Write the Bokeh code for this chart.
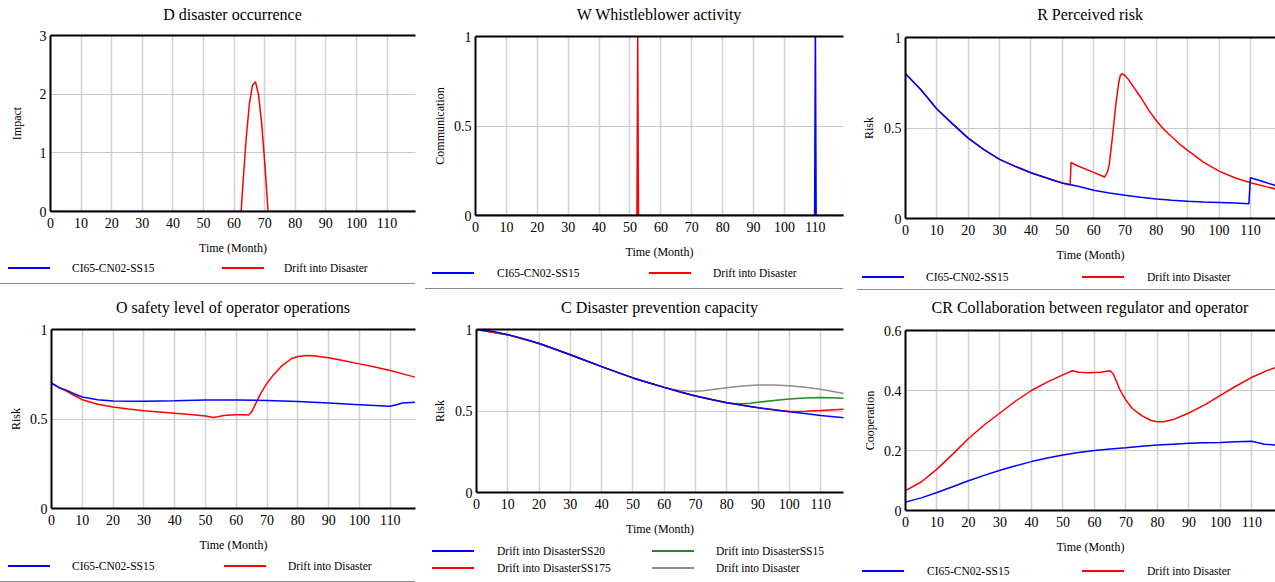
from bokeh.plotting import figure
from bokeh.models import (Range1d, FixedTicker, LinearAxis, NumeralTickFormatter, Div)
from bokeh.layouts import row, column
from bokeh.embed import file_html
from bokeh.resources import INLINE

FONT = "Liberation Serif"
BLUE = "#0000ff"
RED = "#ff0000"
GREEN = "#1f8a1f"
GRAY = "#8c8c8c"
X_TICKS = [0, 10, 20, 30, 40, 50, 60, 70, 80, 90, 100, 110, 120]

# ---------------- data ----------------
# D disaster occurrence
d_blue_t = [0, 120]
d_blue = [0, 0]
d_red_t = [0, 62.3, 63, 64, 65, 66, 67, 68, 69, 70, 71, 71.1, 120]
d_red = [0, 0, 0.55, 1.27, 1.83, 2.15, 2.21, 1.99, 1.51, 0.85, 0.08, 0, 0]

# W Whistleblower activity
w_blue_t = [0, 109.75, 110, 110.25, 120]
w_blue = [0, 0, 1, 0, 0]
w_red_t = [0, 52.25, 52.5, 52.75, 120]
w_red = [0, 0, 1, 0, 0]

# R Perceived risk
r_blue_t = [0, 5, 10, 15, 20, 25, 30, 35, 40, 45, 50, 55, 60, 65, 70, 75, 80, 85,
            90, 95, 100, 105, 109.5, 110, 113, 118]
r_blue = [0.8, 0.71, 0.605, 0.523, 0.444, 0.38, 0.327, 0.288, 0.253, 0.224, 0.196,
          0.178, 0.156, 0.141, 0.128, 0.117, 0.108, 0.101, 0.095, 0.091, 0.088,
          0.085, 0.081, 0.225, 0.21, 0.182]
r_red_t = [0, 5, 10, 15, 20, 25, 30, 35, 40, 45, 50, 52.5, 52.8, 55, 60, 63.5, 64.5,
           65, 66, 67, 68, 68.5, 69, 70, 71, 72, 73, 74, 75, 77.5, 80, 82.5, 85, 87.5,
           90, 95, 100, 105, 110, 115, 118]
r_red = [0.8, 0.71, 0.605, 0.523, 0.444, 0.38, 0.327, 0.288, 0.253, 0.224, 0.196,
         0.185, 0.31, 0.29, 0.255, 0.229, 0.26, 0.3, 0.45, 0.62, 0.75, 0.79, 0.80,
         0.79, 0.77, 0.745, 0.72, 0.695, 0.67, 0.60, 0.54, 0.49, 0.45, 0.41, 0.376,
         0.312, 0.262, 0.225, 0.198, 0.176, 0.163]

# O safety level of operator operations
o_blue_t = [0, 2.5, 5, 7.5, 10, 15, 20, 30, 40, 50, 60, 70, 80, 90, 100, 110, 112,
            114, 118]
o_blue = [0.70, 0.675, 0.66, 0.64, 0.623, 0.608, 0.600, 0.599, 0.602, 0.606, 0.606,
          0.604, 0.598, 0.589, 0.58, 0.571, 0.58, 0.589, 0.593]
o_red_t = [0, 2.5, 5, 7.5, 10, 15, 20, 25, 30, 35, 40, 45, 50, 52.5, 54, 56, 58, 60,
           62, 64, 65, 66, 67, 68, 70, 72, 75, 78, 80, 83, 85, 90, 95, 100, 105, 110,
           115, 118]
o_red = [0.70, 0.675, 0.655, 0.63, 0.608, 0.582, 0.567, 0.556, 0.546, 0.539, 0.532,
         0.525, 0.517, 0.509, 0.512, 0.52, 0.523, 0.524, 0.524, 0.522, 0.54, 0.575,
         0.61, 0.645, 0.70, 0.745, 0.80, 0.838, 0.849, 0.855, 0.853, 0.842, 0.826,
         0.808, 0.79, 0.771, 0.748, 0.734]

# C Disaster prevention capacity
c_t = [0, 5, 10, 15, 20, 25, 30, 35, 40, 45, 50, 55, 60, 65, 70, 75, 80, 85, 90, 95,
       100, 105, 110, 117.5]
c_ss20 = [1.0, 0.99, 0.968, 0.944, 0.914, 0.88, 0.845, 0.808, 0.772, 0.737, 0.703,
          0.673, 0.645, 0.617, 0.592, 0.57, 0.551, 0.535, 0.52, 0.507, 0.495, 0.484,
          0.473, 0.459]
c_ss15_t = [0, 10, 20, 30, 40, 50, 60, 70, 80, 83, 85, 87.5, 90, 95, 100, 105, 110,
            117.5]
c_ss15 = [1.0, 0.968, 0.914, 0.845, 0.772, 0.703, 0.645, 0.592, 0.551, 0.544, 0.545,
          0.548, 0.553, 0.565, 0.574, 0.58, 0.583, 0.578]
c_ss175_t = [0, 10, 20, 30, 40, 50, 60, 70, 80, 90, 97.5, 100, 105, 110, 117.5]
c_ss175 = [1.0, 0.968, 0.914, 0.845, 0.772, 0.703, 0.645, 0.592, 0.551, 0.52, 0.501,
           0.497, 0.499, 0.503, 0.511]
c_base_t = [0, 10, 20, 30, 40, 50, 60, 62.5, 65, 67.5, 70, 72.5, 75, 77.5, 80, 85, 90,
            95, 100, 105, 110, 117.5]
c_base = [1.0, 0.968, 0.914, 0.845, 0.772, 0.703, 0.645, 0.634, 0.626, 0.622, 0.621,
          0.624, 0.63, 0.637, 0.643, 0.653, 0.659, 0.66, 0.655, 0.645, 0.633, 0.607]

# CR Collaboration between regulator and operator
cr_blue_t = [0, 5, 10, 15, 20, 25, 30, 35, 40, 45, 50, 55, 60, 65, 70, 75, 80, 85, 90,
             95, 100, 105, 110, 112, 114, 118]
cr_blue = [0.028, 0.042, 0.06, 0.079, 0.099, 0.117, 0.134, 0.149, 0.163, 0.175, 0.185,
           0.193, 0.2, 0.205, 0.209, 0.214, 0.218, 0.221, 0.224, 0.226, 0.227, 0.229,
           0.231, 0.226, 0.221, 0.218]
cr_red_t = [0, 5, 10, 15, 20, 25, 30, 35, 40, 45, 50, 53, 55, 58, 62, 65, 66, 67, 68,
            69, 70, 72, 75, 78, 80, 82, 85, 90, 95, 100, 105, 110, 115, 118]
cr_red = [0.066, 0.095, 0.138, 0.188, 0.24, 0.285, 0.325, 0.365, 0.4, 0.428, 0.452,
          0.466, 0.461, 0.459, 0.461, 0.466, 0.455, 0.43, 0.405, 0.385, 0.368, 0.34,
          0.316, 0.3, 0.296, 0.296, 0.303, 0.325, 0.352, 0.384, 0.415, 0.444, 0.467,
          0.478]

TITLES = ["D disaster occurrence", "W Whistleblower activity", "R Perceived risk",
          "O safety level of operator operations", "C Disaster prevention capacity",
          "CR Collaboration between regulator and operator"]
LEG_A = "CI65-CN02-SS15"
LEG_B = "Drift into Disaster"
C_LABELS = ["Drift into DisasterSS20", "Drift into DisasterSS15",
            "Drift into DisasterSS175", "Drift into Disaster"]

TOP_BORDER = 8


def title_strip(text, w, h, left, right, cy):
    html = (f'<div style="position:relative;width:{w}px;height:{h}px;overflow:hidden;">'
            f'<div style="position:absolute;left:{left}px;width:{w - left - right}px;'
            f"top:{cy - 10}px;text-align:center;font-family:'{FONT}';font-size:16px;"
            f'line-height:20px;color:#000;white-space:nowrap;">{text}</div></div>')
    return Div(text=html, width=w, height=h, margin=0)


def main_plot(ylabel, ymax, yticks, xend, series, w, h, bl, br, bb, ylab_standoff):
    p = figure(width=w, height=h, x_range=Range1d(0, xend), y_range=Range1d(0, ymax),
               output_backend="svg", toolbar_location=None, title_location=None,
               min_border_left=bl, min_border_right=br, min_border_top=TOP_BORDER,
               min_border_bottom=bb, x_axis_label="Time (Month)",
               y_axis_label=ylabel)
    p.outline_line_color = None

    for ax in (p.xaxis[0], p.yaxis[0]):
        ax.axis_line_width = 2
        ax.axis_line_color = "black"
        ax.major_tick_in = 0
        ax.major_tick_out = 0
        ax.minor_tick_in = 0
        ax.minor_tick_out = 0
        ax.major_label_text_font = FONT
        ax.major_label_text_font_size = "14px"
        ax.major_label_text_color = "black"
        ax.axis_label_text_font = FONT
        ax.axis_label_text_font_size = "12px"
        ax.axis_label_text_font_style = "normal"
        ax.axis_label_text_color = "black"
    p.xaxis[0].ticker = FixedTicker(ticks=X_TICKS)
    p.xaxis[0].major_label_standoff = 6
    p.xaxis[0].axis_label_standoff = 10
    p.yaxis[0].ticker = FixedTicker(ticks=yticks)
    p.yaxis[0].formatter = NumeralTickFormatter(format="0.[0]")
    p.yaxis[0].major_label_standoff = 4
    p.yaxis[0].axis_label_standoff = ylab_standoff

    top = LinearAxis(ticker=FixedTicker(ticks=[]), axis_line_width=2,
                     axis_line_color="black", major_tick_in=0, major_tick_out=0,
                     minor_tick_in=0, minor_tick_out=0,
                     major_label_text_font_size="0px", major_label_standoff=0)
    p.add_layout(top, "above")

    p.xgrid.ticker = FixedTicker(ticks=X_TICKS)
    p.ygrid.ticker = FixedTicker(ticks=yticks)
    p.xgrid.grid_line_color = "#d2d2d2"
    p.xgrid.grid_line_width = 1.6
    p.ygrid.grid_line_color = "#c8c8c8"
    p.ygrid.grid_line_width = 1.2

    for (t, v, color) in series:
        p.line(t, v, line_color=color, line_width=1.5)
    return p


def legend_strip(entries, w, h, sep=None):
    """entries: (label, color, swatch_left, text_left, center_y)."""
    parts = []
    for (label, color, sx, tx, cy) in entries:
        parts.append(
            f'<div style="position:absolute;left:{sx}px;top:{cy - 1}px;width:42px;'
            f'height:0;border-top:2px solid {color};"></div>')
        parts.append(
            f'<div style="position:absolute;left:{tx}px;top:{cy - 8}px;'
            f"font-family:'{FONT}';font-size:11.5px;line-height:16px;color:#000;"
            f'white-space:nowrap;">{label}</div>')
    if sep:
        x0, x1, sy = sep
        parts.append(
            f'<div style="position:absolute;left:{x0}px;top:{sy}px;width:{x1 - x0}px;'
            f'height:0;border-top:1px solid #8c8c8c;"></div>')
    html = (f'<div style="position:relative;width:{w}px;height:{h}px;'
            f'overflow:hidden;">' + "".join(parts) + "</div>")
    return Div(text=html, width=w, height=h, margin=0)


def panel(title, cy, frame_top, plot_args, main_h, bl, br, legend):
    t = title_strip(title, 425, frame_top - TOP_BORDER, bl, br, cy)
    p = main_plot(*plot_args[:5], 425, main_h - (frame_top - TOP_BORDER), bl, br,
                  *plot_args[5:])
    return column(t, p, legend)


c1 = panel(TITLES[0], 15, 35,
           ("Impact", 3, [0, 1, 2, 3], 119.3,
            [(d_red_t, d_red, RED), (d_blue_t, d_blue, BLUE)], 47, 13), 258, 50, 10,
           legend_strip([(LEG_A, BLUE, 8, 72, 10), (LEG_B, RED, 222, 284, 10)],
                        425, 32, sep=(0, 415, 25)))
c2 = panel(TITLES[1], 15, 36,
           ("Communication", 1, [0, 0.5, 1], 119.1,
            [(w_red_t, w_red, RED), (w_blue_t, w_blue, BLUE)], 47, 4), 262, 50, 7,
           legend_strip([(LEG_A, BLUE, 7, 72, 11), (LEG_B, RED, 224, 288, 11)],
                        425, 28, sep=(0, 418, 26)))
c3 = panel(TITLES[2], 15, 37,
           ("Risk", 1, [0, 0.5, 1], 118.0,
            [(r_red_t, r_red, RED), (r_blue_t, r_blue, BLUE)], 46, 5), 264, 55, 0,
           legend_strip([(LEG_A, BLUE, 12, 76, 13), (LEG_B, RED, 232, 297, 13)],
                        425, 26, sep=(7, 425, 25)))
c4 = panel(TITLES[3], 18, 39,
           ("Risk", 1, [0, 0.5, 1], 118.2,
            [(o_red_t, o_red, RED), (o_blue_t, o_blue, BLUE)], 46, 4), 264, 51, 10,
           legend_strip([(LEG_A, BLUE, 8, 72, 12), (LEG_B, RED, 224, 288, 12)],
                        425, 28, sep=(0, 415, 27)))
c5 = panel(TITLES[4], 18, 39,
           ("Risk", 1, [0, 0.5, 1], 117.3,
            [(c_base_t, c_base, GRAY), (c_ss15_t, c_ss15, GREEN),
             (c_ss175_t, c_ss175, RED), (c_t, c_ss20, BLUE)], 46, 5), 248, 51, 7,
           legend_strip([(C_LABELS[0], BLUE, 7, 72, 13),
                         (C_LABELS[1], GREEN, 227, 291, 13),
                         (C_LABELS[2], RED, 7, 72, 30),
                         (C_LABELS[3], GRAY, 227, 291, 30)], 425, 44))
c6 = panel(TITLES[5], 18, 40,
           ("Cooperation", 0.6, [0, 0.2, 0.4, 0.6], 117.5,
            [(cr_red_t, cr_red, RED), (cr_blue_t, cr_blue, BLUE)], 44, 4), 266, 55, 0,
           legend_strip([(LEG_A, BLUE, 12, 77, 15), (LEG_B, RED, 232, 297, 15)],
                        425, 26))

layout = column(row(c1, c2, c3), row(c4, c5, c6))
open("out.html", "w").write(file_html(layout, INLINE))
